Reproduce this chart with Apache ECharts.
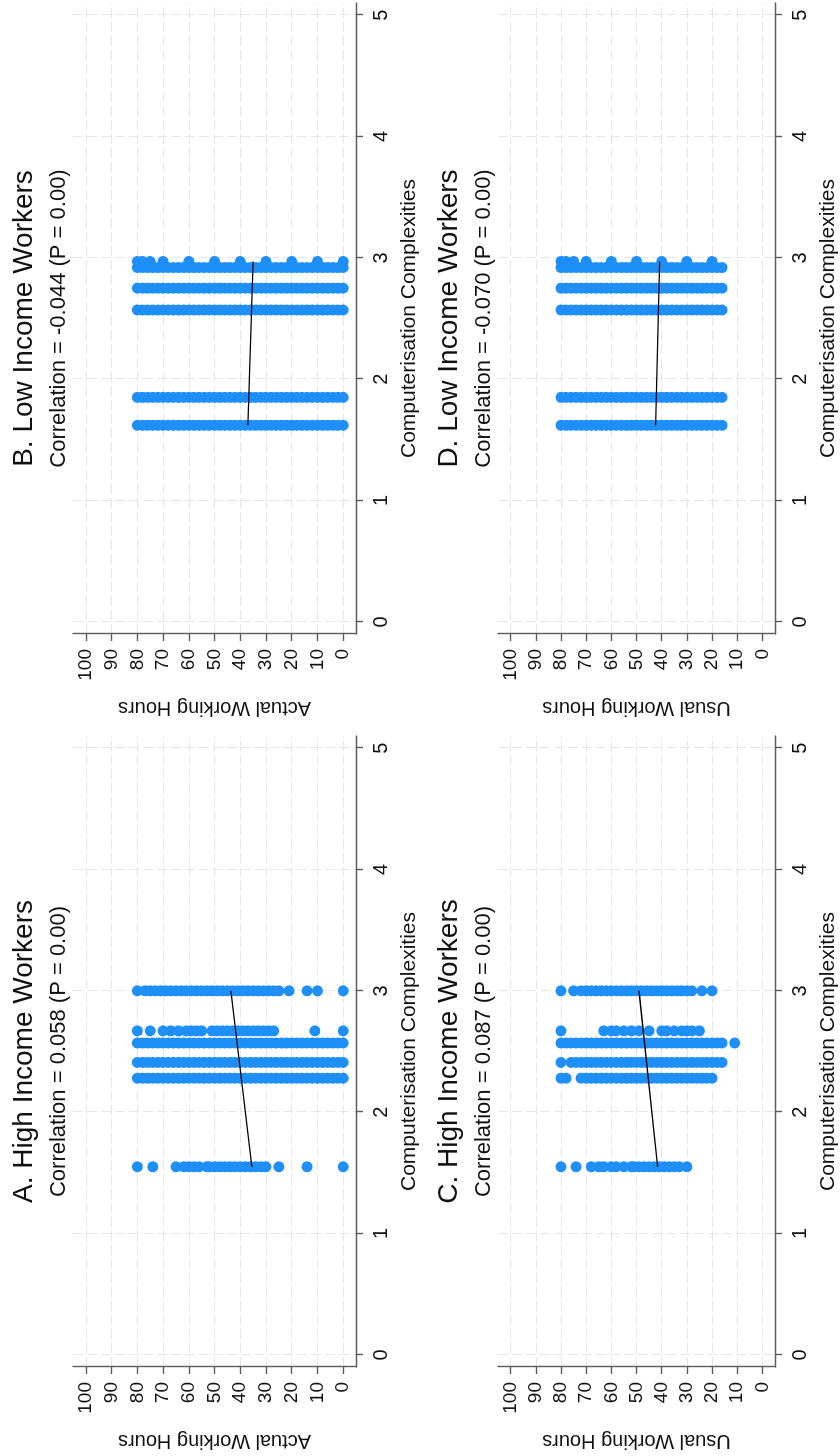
<!DOCTYPE html>
<html>
<head>
<meta charset="utf-8">
<script src="https://cdn.jsdelivr.net/npm/echarts@6/dist/echarts.min.js"></script>
<style>
html, body { margin: 0; padding: 0; width: 840px; height: 1456px; overflow: hidden; background: #fff; }
/* the figure is drawn upright (1456 x 840) and turned a quarter left, like the scan */
#element { position: absolute; left: 0; top: 0; width: 1456px; height: 840px; transform-origin: 0 0; transform: translate(0, 1456px) rotate(-90deg); }
</style>
</head>
<body>
<div id="element"></div>
<script>
// tick labels
const complexityTicks = [0, 1, 2, 3, 4, 5];
const hourTicks = [0, 10, 20, 30, 40, 50, 60, 70, 80, 90, 100];

// complexity levels of the occupation groups
const highLevels = [1.55, 2.28, 2.41, 2.57, 2.67, 3.0];
const lowLevels = [1.62, 1.85, 2.57, 2.75, 2.92, 2.97];

// hours, one list per level
const full0to80 = [0, 2, 4, 6, 8, 10, 12, 14, 16, 18, 20, 22, 24, 26, 28, 30, 32, 34, 36, 38, 40, 42, 44, 46, 48, 50, 52, 54, 56, 58, 60, 62, 64, 66, 68, 70, 72, 74, 76, 78, 80];
const full16to80 = [16, 18, 20, 22, 24, 26, 28, 30, 32, 34, 36, 38, 40, 42, 44, 46, 48, 50, 52, 54, 56, 58, 60, 62, 64, 66, 68, 70, 72, 74, 76, 78, 80];

const actualHigh155 = [0, 14, 25, 30, 32, 34, 36, 38, 40, 42, 44, 46, 48, 50, 52, 53, 56, 58, 60, 62, 65, 74, 80];
const actualHigh267 = [0, 11, 27, 29, 31, 33, 35, 37, 39, 41, 43, 45, 47, 49, 51, 55, 57, 59, 61, 64, 67, 70, 75, 80];
const actualHigh300 = [0, 10, 14, 21, 25, 27, 29, 31, 33, 35, 37, 39, 41, 43, 45, 47, 49, 51, 53, 55, 57, 59, 61, 63, 65, 67, 69, 71, 73, 75, 77, 80];

const usualHigh155 = [30, 33, 35, 37, 39, 41, 43, 45, 47, 49, 51, 52, 55, 58, 60, 63, 65, 68, 74, 80];
const usualHigh228 = [20, 22, 24, 26, 28, 30, 32, 34, 36, 38, 40, 42, 44, 46, 48, 50, 52, 54, 56, 58, 60, 62, 64, 66, 68, 70, 72, 78, 80];
const usualHigh241 = [16, 18, 20, 22, 24, 26, 28, 30, 32, 34, 36, 38, 40, 42, 44, 46, 48, 50, 52, 54, 56, 58, 60, 62, 64, 66, 68, 70, 72, 74, 76, 80];
const usualHigh257 = [11, 16, 18, 20, 22, 24, 26, 28, 30, 32, 34, 36, 38, 40, 42, 44, 46, 48, 50, 52, 54, 56, 58, 60, 62, 64, 66, 68, 70, 72, 74, 76, 78, 80];
const usualHigh267 = [25, 28, 30, 32, 35, 38, 40, 45, 49, 52, 55, 58, 60, 63, 80];
const usualHigh300 = [20, 24, 28, 30, 32, 34, 36, 38, 40, 42, 44, 46, 48, 50, 52, 54, 56, 58, 60, 62, 64, 66, 68, 70, 72, 75, 80];

const actualLow297 = [0, 10, 20, 30, 40, 50, 60, 70, 75, 78, 80];
const usualLow297 = [20, 30, 40, 50, 60, 70, 75, 78, 80];

const actualHighRows = [actualHigh155, full0to80, full0to80, full0to80, actualHigh267, actualHigh300];
const usualHighRows = [usualHigh155, usualHigh228, usualHigh241, usualHigh257, usualHigh267, usualHigh300];
const actualLowRows = [full0to80, full0to80, full0to80, full0to80, full0to80, actualLow297];
const usualLowRows = [full16to80, full16to80, full16to80, full16to80, full16to80, usualLow297];

// fitted lines (ends)
const fitA = [[1.55, 35.5], [3.0, 43.6]];
const fitB = [[1.62, 37.0], [2.97, 35.0]];
const fitC = [[1.55, 41.6], [3.0, 49.0]];
const fitD = [[1.62, 42.4], [2.97, 40.8]];

const titles = ['A. High Income Workers', 'B. Low Income Workers', 'C. High Income Workers', 'D. Low Income Workers'];
const subtitles = ['Correlation = 0.058 (P = 0.00)', 'Correlation = -0.044 (P = 0.00)', 'Correlation = 0.087 (P = 0.00)', 'Correlation = -0.070 (P = 0.00)'];
const hourNames = ['Actual Working Hours', 'Actual Working Hours', 'Usual Working Hours', 'Usual Working Hours'];

const font = "'Liberation Sans', Arial, sans-serif";
const blue = '#1e8ff8';
const axisGrey = '#5c5c5c';
const ink = '#111';

function points(levels, rows) {
	const out = [];
	levels.forEach((c, i) => {
		rows[i].forEach(h => out.push([c, h]));
	});
	return out;
}

const panels = [
	{ levels: highLevels, rows: actualHighRows, fit: fitA },
	{ levels: lowLevels, rows: actualLowRows, fit: fitB },
	{ levels: highLevels, rows: usualHighRows, fit: fitC },
	{ levels: lowLevels, rows: usualLowRows, fit: fitD }
];

const grids = [
	{ left: 89, top: 73, width: 631, height: 283 },
	{ left: 822, top: 73, width: 631, height: 283 },
	{ left: 89, top: 498, width: 631, height: 281 },
	{ left: 822, top: 498, width: 631, height: 281 }
];
const titleTops = [10, 10, 435, 435];

const myEcharts = echarts.init(document.getElementById('element'), null, { renderer: 'canvas' });

const option = {
	backgroundColor: '#fff',
	animation: false,
	title: grids.map((g, i) => ({
		text: titles[i],
		subtext: subtitles[i],
		left: g.left + g.width / 2,
		top: titleTops[i],
		textAlign: 'center',
		padding: 0,
		itemGap: 10,
		textStyle: { fontSize: 28, fontWeight: 'normal', color: ink, fontFamily: font },
		subtextStyle: { fontSize: 22, color: ink, fontFamily: font }
	})),
	grid: grids,
	xAxis: grids.map((g, i) => ({
		gridIndex: i,
		type: 'value',
		min: -0.1,
		max: 5.1,
		name: 'Computerisation Complexities',
		nameLocation: 'middle',
		nameGap: 43,
		nameTextStyle: { fontSize: 21, color: ink, fontFamily: font },
		axisLine: { show: true, onZero: false, lineStyle: { color: axisGrey, width: 1.4 } },
		axisTick: { show: true, length: 7, customValues: complexityTicks, lineStyle: { color: axisGrey, width: 1.4 } },
		axisLabel: { customValues: complexityTicks, fontSize: 20, color: ink, margin: 15, fontFamily: font },
		splitLine: { show: true, lineStyle: { color: '#e6e6e6', width: 1, type: [10, 4] } }
	})),
	yAxis: grids.map((g, i) => ({
		gridIndex: i,
		type: 'value',
		min: -5,
		max: 105,
		name: hourNames[i],
		nameLocation: 'middle',
		nameGap: 64,
		nameTextStyle: { fontSize: 20, color: ink, fontFamily: font },
		axisLine: { show: true, onZero: false, lineStyle: { color: axisGrey, width: 1.4 } },
		axisTick: { show: true, length: 7, customValues: hourTicks, lineStyle: { color: axisGrey, width: 1.4 } },
		axisLabel: { customValues: hourTicks, fontSize: 19, color: ink, margin: 15, fontFamily: font },
		splitLine: { show: true, lineStyle: { color: '#e6e6e6', width: 1, type: [10, 4] } }
	})),
	series: []
};

panels.forEach((p, i) => {
	option.series.push({
		type: 'scatter',
		xAxisIndex: i,
		yAxisIndex: i,
		symbol: 'circle',
		symbolSize: 11,
		itemStyle: { color: blue, opacity: 1 },
		data: points(p.levels, p.rows),
		z: 2
	});
	option.series.push({
		type: 'line',
		xAxisIndex: i,
		yAxisIndex: i,
		symbol: 'none',
		lineStyle: { color: '#000', width: 1.3 },
		data: p.fit,
		z: 3
	});
});

myEcharts.setOption(option);
</script>
</body>
</html>
